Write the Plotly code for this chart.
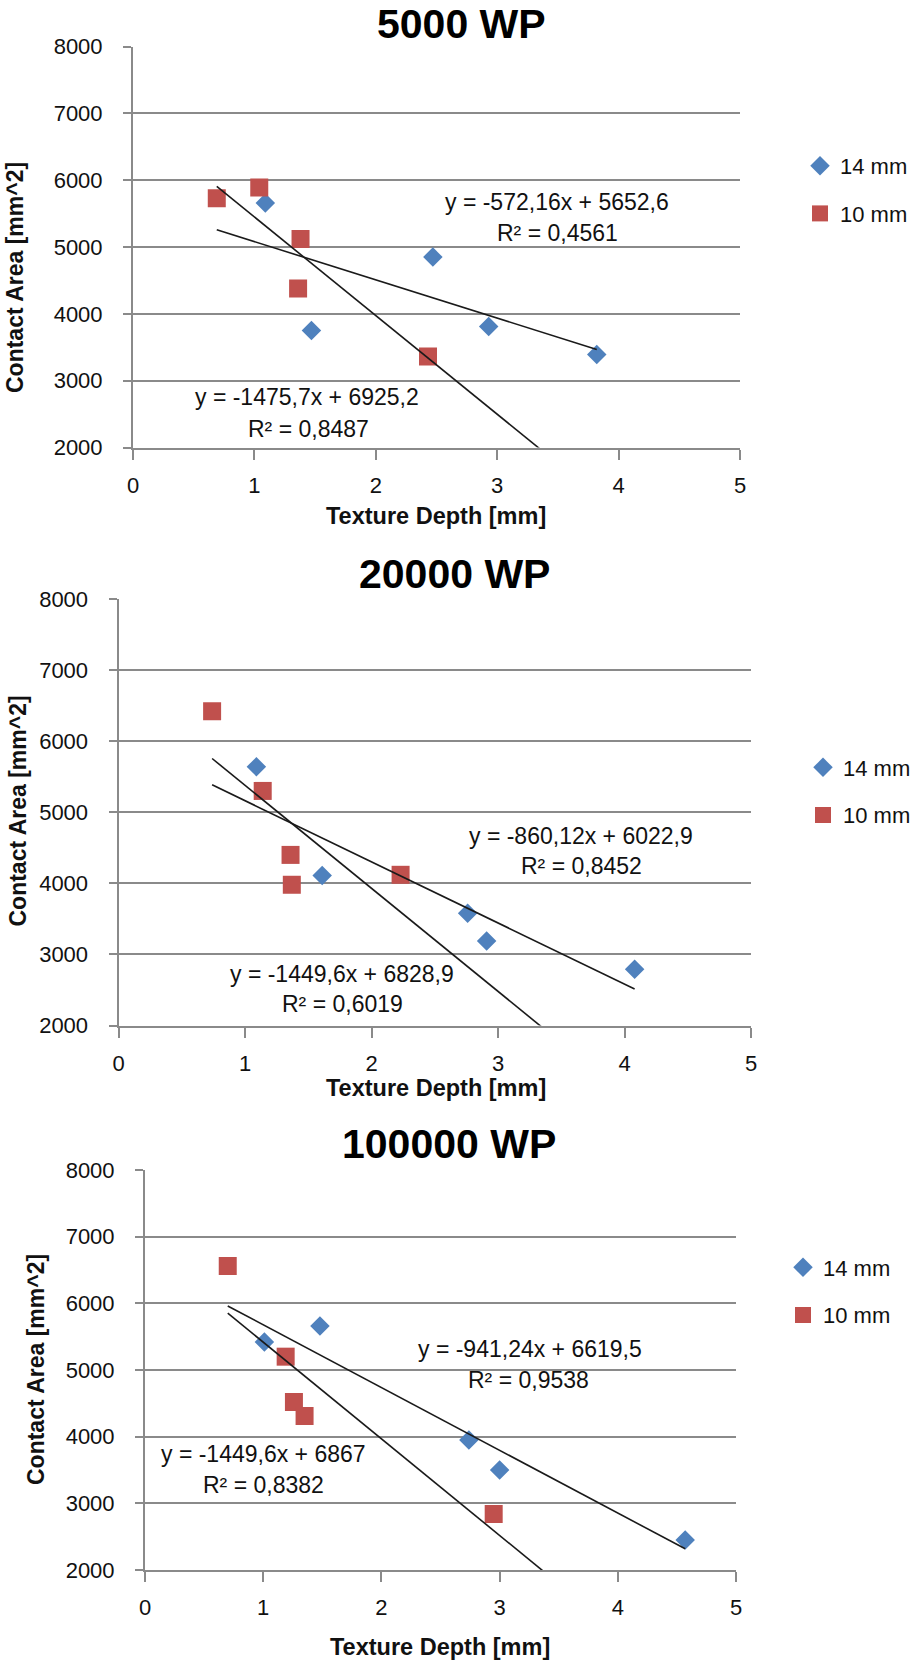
import plotly.graph_objects as go

W, H = 915, 1662

# ---- data -------------------------------------------------------------
panel_titles = ["5000 WP", "20000 WP", "100000 WP"]
series_names = ["14 mm", "10 mm"]

# 5000 WP
x14_5000 = [1.09, 1.47, 2.47, 2.93, 3.82]
y14_5000 = [5660, 3750, 4850, 3810, 3390]
x10_5000 = [0.69, 1.04, 1.36, 1.38, 2.43]
y10_5000 = [5730, 5890, 4380, 5120, 3360]

# 20000 WP
x14_20000 = [1.09, 1.61, 2.76, 2.91, 4.08]
y14_20000 = [5640, 4110, 3580, 3190, 2790]
x10_20000 = [0.74, 1.14, 1.36, 1.37, 2.23]
y10_20000 = [6420, 5300, 4400, 3980, 4120]

# 100000 WP
x14_100000 = [1.01, 1.48, 2.74, 3.00, 4.57]
y14_100000 = [5420, 5660, 3950, 3500, 2450]
x10_100000 = [0.70, 1.19, 1.26, 1.35, 2.95]
y10_100000 = [6560, 5200, 4520, 4310, 2840]

# linear trend lines (y = slope * x + intercept) and their R^2
slope14 = [-572.16, -860.12, -941.24]
icpt14 = [5652.6, 6022.9, 6619.5]
r2_14 = ["0,4561", "0,8452", "0,9538"]
slope10 = [-1475.7, -1449.6, -1449.6]
icpt10 = [6925.2, 6828.9, 6867]
r2_10 = ["0,8487", "0,6019", "0,8382"]

x_ticks = [0, 1, 2, 3, 4, 5]
y_ticks = [2000, 3000, 4000, 5000, 6000, 7000, 8000]

x_label = "Texture Depth [mm]"
y_label = "Contact Area [mm^2]"

xs14 = [x14_5000, x14_20000, x14_100000]
ys14 = [y14_5000, y14_20000, y14_100000]
xs10 = [x10_5000, x10_20000, x10_100000]
ys10 = [y10_5000, y10_20000, y10_100000]

# ---- styling ----------------------------------------------------------
FONT = "Liberation Sans, Arial, sans-serif"
BLUE = "#4F81BD"
RED = "#C0504D"
GRID = "#8a8a8a"
TXT = "#111111"


def px(x):
    return x / W


def py(y):
    return 1 - y / H


# plot areas in pixels: (left, right, top, bottom)
areas = [(133, 740, 46.5, 447.5), (118.5, 751, 599, 1025.5), (145, 736, 1170, 1570)]
title_pos = [(461, 24.5), (454, 574), (449, 1144)]
xlab_pos = [(436, 516), (436, 1088), (440, 1647)]
ylab_pos = [(15, 278), (17.5, 811), (36, 1370)]
eq14_pos = [((557, 202), (557, 233)), ((581, 836), (581, 866)), ((530, 1349), (528, 1380))]
eq10_pos = [((307, 397), (308, 429)), ((342, 974), (342, 1004)), ((263, 1454), (263, 1485))]
legend_pos = [(800, 145), (803, 746.5), (783, 1246.5)]


def fmt(v):
    return f"{abs(v):g}".replace(".", ",")


def eq_text(m, b):
    sign = "-" if m < 0 else ""
    return f"y = {sign}{fmt(m)}x + {fmt(b)}"


fig = go.Figure()
annotations = []
layout_axes = {}

for i in range(3):
    sfx = "" if i == 0 else str(i + 1)
    xa, ya = "x" + sfx, "y" + sfx
    leg = "legend" + sfx

    fig.add_trace(go.Scatter(
        x=xs14[i], y=ys14[i], mode="markers", name=series_names[0],
        marker=dict(symbol="diamond", size=15, color=BLUE, line=dict(width=0)),
        xaxis=xa, yaxis=ya, legend=leg, legendgroup=f"a{i}"))
    fig.add_trace(go.Scatter(
        x=xs10[i], y=ys10[i], mode="markers", name=series_names[1],
        marker=dict(symbol="square", size=18, color=RED, line=dict(width=0)),
        xaxis=xa, yaxis=ya, legend=leg, legendgroup=f"b{i}"))

    all_x = xs14[i] + xs10[i]
    x0, x1 = min(all_x), max(all_x)
    for m, b in ((slope14[i], icpt14[i]), (slope10[i], icpt10[i])):
        fig.add_trace(go.Scatter(
            x=[x0, x1], y=[m * x0 + b, m * x1 + b], mode="lines",
            line=dict(color="#1a1a1a", width=1.6), showlegend=False,
            hoverinfo="skip", xaxis=xa, yaxis=ya))

    l, r, t, btm = areas[i]
    layout_axes["xaxis" + sfx] = dict(
        domain=[px(l), px(r)], range=[0, 5], tickvals=x_ticks, anchor=ya,
        showline=True, linecolor=GRID, linewidth=2, ticks="outside",
        ticklen=10, tickwidth=2, tickcolor=GRID, showgrid=False, zeroline=False,
        ticklabelstandoff=7,
        tickfont=dict(family=FONT, size=22, color=TXT), fixedrange=True)
    layout_axes["yaxis" + sfx] = dict(
        domain=[py(btm), py(t)], range=[2000, 8000], tickvals=y_ticks, anchor=xa,
        showline=True, linecolor=GRID, linewidth=2, ticks="outside",
        ticklen=8, tickwidth=2, tickcolor=GRID, showgrid=True, gridcolor=GRID,
        gridwidth=2, zeroline=False, ticklabelstandoff=16,
        tickfont=dict(family=FONT, size=22, color=TXT), fixedrange=True)

    lx, ly = legend_pos[i]
    layout_axes[leg] = dict(
        x=px(lx), y=py(ly), xanchor="left", yanchor="top",
        font=dict(family=FONT, size=22, color=TXT), tracegroupgap=16,
        bgcolor="rgba(0,0,0,0)")

    tx, ty = title_pos[i]
    annotations.append(dict(
        text=f"<b>{panel_titles[i]}</b>", x=px(tx), y=py(ty), xref="paper",
        yref="paper", showarrow=False, xanchor="center", yanchor="middle",
        font=dict(family=FONT, size=41, color="#000000")))
    ax_, ay_ = xlab_pos[i]
    annotations.append(dict(
        text=f"<b>{x_label}</b>", x=px(ax_), y=py(ay_), xref="paper",
        yref="paper", showarrow=False, xanchor="center", yanchor="middle",
        font=dict(family=FONT, size=23.5, color=TXT)))
    bx, by = ylab_pos[i]
    annotations.append(dict(
        text=f"<b>{y_label}</b>", x=px(bx), y=py(by), xref="paper",
        yref="paper", showarrow=False, xanchor="center", yanchor="middle",
        textangle=-90, font=dict(family=FONT, size=23, color=TXT)))

    for (m, b, r2, pos) in ((slope14[i], icpt14[i], r2_14[i], eq14_pos[i]),
                            (slope10[i], icpt10[i], r2_10[i], eq10_pos[i])):
        (ex, ey), (rx, ry) = pos
        annotations.append(dict(
            text=eq_text(m, b), x=px(ex), y=py(ey), xref="paper", yref="paper",
            showarrow=False, xanchor="center", yanchor="middle",
            font=dict(family=FONT, size=23, color=TXT)))
        annotations.append(dict(
            text=f"R² = {r2}", x=px(rx), y=py(ry), xref="paper",
            yref="paper", showarrow=False, xanchor="center", yanchor="middle",
            font=dict(family=FONT, size=23, color=TXT)))

fig.update_layout(
    width=W, height=H, margin=dict(l=0, r=0, t=0, b=0, autoexpand=False),
    paper_bgcolor="white", plot_bgcolor="white", showlegend=True,
    annotations=annotations, **layout_axes)

fig.write_html("out.html")
